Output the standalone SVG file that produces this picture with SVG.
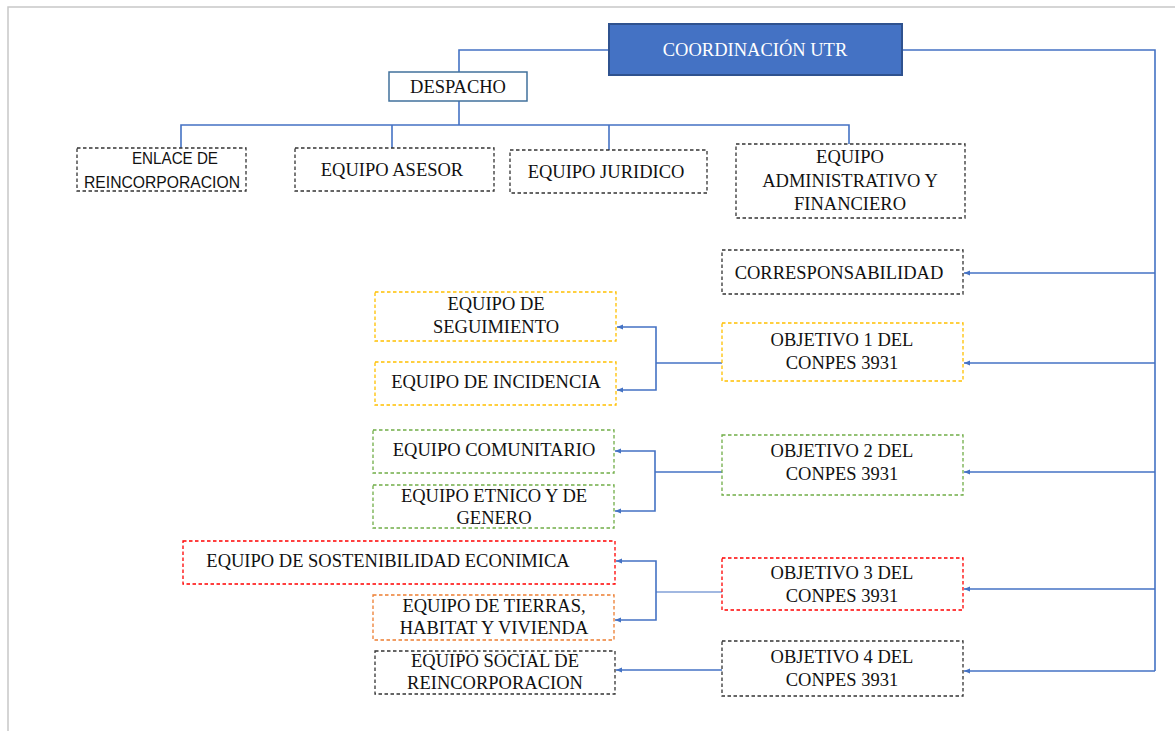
<svg xmlns="http://www.w3.org/2000/svg" width="1175" height="731" viewBox="0 0 1175 731">
<defs>
<marker id="ah" markerWidth="8" markerHeight="8" refX="7" refY="4" orient="auto" markerUnits="userSpaceOnUse">
<path d="M1,1.5 L7,4 L1,6.5 Z" fill="#4472C4"/>
</marker>
</defs>
<style>
.t{font-family:"Liberation Serif","Times New Roman",serif;font-size:18.5px;fill:#111111;text-anchor:middle}
.w{fill:#ffffff}
.s{font-family:"Liberation Sans",Arial,sans-serif;font-size:17px;fill:#111111;text-anchor:middle}
.bx{fill:#ffffff;stroke-width:1.3;stroke-dasharray:3.5 2.5}
.k{stroke:#333333}
.y{stroke:#FFC000}
.g{stroke:#70AD47}
.r{stroke:#FF0000}
.o{stroke:#ED7D31}
.c{fill:none;stroke:#4472C4;stroke-width:1.6}
.a{marker-end:url(#ah)}
</style>
<rect width="1175" height="731" fill="#ffffff"/>
<path d="M8,731 V7 H1175" fill="none" stroke="#C8C8C8" stroke-width="1.5"/>
<g id="connectors">
<path class="c" d="M609,50 H459 V72"/>
<path class="c" d="M902,50 H1155 V671"/>
<path class="c" d="M459,101 V125"/>
<path class="c" d="M181,148 V125 H849 V145"/>
<path class="c" d="M392,125 V148"/>
<path class="c" d="M609,125 V150"/>
<path class="c a" d="M1155,273 H964"/>
<path class="c a" d="M1155,363 H964"/>
<path class="c a" d="M1155,472 H964"/>
<path class="c a" d="M1155,589 H964"/>
<path class="c a" d="M1155,671 H964"/>
<path class="c" d="M722,363 H656"/>
<path class="c a" d="M656,363 V327 H617"/>
<path class="c a" d="M656,363 V390 H617"/>
<path class="c" d="M722,472 H655"/>
<path class="c a" d="M655,472 V451 H615"/>
<path class="c a" d="M655,472 V511 H615"/>
<path class="c" style="stroke-width:1.1" d="M722,592 H656"/>
<path class="c a" d="M656,592 V561 H616"/>
<path class="c a" d="M656,592 V620 H615"/>
<path class="c a" d="M722,670 H616"/>
</g>
<g id="coordinacion">
<rect x="609" y="24" width="293" height="51" fill="#4472C4" stroke="#2F528F" stroke-width="2"/>
<text class="t w" x="755" y="56">COORDINACIÓN UTR</text>
</g>
<g id="despacho">
<rect x="389" y="72" width="138" height="29" fill="#ffffff" stroke="#41719C" stroke-width="1.5"/>
<text class="t" x="458" y="93">DESPACHO</text>
</g>
<g id="enlace">
<rect class="bx k" x="77" y="148" width="169" height="43"/>
<text class="s" x="175" y="164" textLength="86" lengthAdjust="spacingAndGlyphs">ENLACE DE</text>
<text class="s" x="162" y="188" textLength="156" lengthAdjust="spacingAndGlyphs">REINCORPORACION</text>
</g>
<g id="asesor">
<rect class="bx k" x="295" y="148" width="199" height="43"/>
<text class="t" x="392" y="176">EQUIPO ASESOR</text>
</g>
<g id="juridico">
<rect class="bx k" x="510" y="150" width="197" height="43"/>
<text class="t" x="606" y="178">EQUIPO JURIDICO</text>
</g>
<g id="administrativo">
<rect class="bx k" x="736" y="144" width="229" height="74"/>
<text class="t" x="850" y="163">EQUIPO</text>
<text class="t" x="850" y="187">ADMINISTRATIVO Y</text>
<text class="t" x="850" y="210">FINANCIERO</text>
</g>
<g id="corresponsabilidad">
<rect class="bx k" x="722" y="250" width="241" height="44"/>
<text class="t" x="839" y="279">CORRESPONSABILIDAD</text>
</g>
<g id="objetivo1">
<rect class="bx y" x="722" y="323" width="241" height="58"/>
<text class="t" x="842" y="346">OBJETIVO 1 DEL</text>
<text class="t" x="842" y="369">CONPES 3931</text>
</g>
<g id="seguimiento">
<rect class="bx y" x="375" y="292" width="241" height="49"/>
<text class="t" x="496" y="310">EQUIPO DE</text>
<text class="t" x="496" y="333">SEGUIMIENTO</text>
</g>
<g id="incidencia">
<rect class="bx y" x="375" y="362" width="241" height="43"/>
<text class="t" x="496" y="388">EQUIPO DE INCIDENCIA</text>
</g>
<g id="objetivo2">
<rect class="bx g" x="722" y="435" width="241" height="60"/>
<text class="t" x="842" y="457">OBJETIVO 2 DEL</text>
<text class="t" x="842" y="480">CONPES 3931</text>
</g>
<g id="comunitario">
<rect class="bx g" x="373" y="430" width="241" height="43"/>
<text class="t" x="494" y="456">EQUIPO COMUNITARIO</text>
</g>
<g id="etnico">
<rect class="bx g" x="373" y="485" width="241" height="43"/>
<text class="t" x="494" y="502">EQUIPO ETNICO Y DE</text>
<text class="t" x="494" y="524">GENERO</text>
</g>
<g id="objetivo3">
<rect class="bx r" x="722" y="558" width="241" height="52"/>
<text class="t" x="842" y="579">OBJETIVO 3 DEL</text>
<text class="t" x="842" y="602">CONPES 3931</text>
</g>
<g id="sostenibilidad">
<rect class="bx r" x="183" y="541" width="432" height="43"/>
<text class="t" x="388" y="567">EQUIPO DE SOSTENIBILIDAD ECONIMICA</text>
</g>
<g id="tierras">
<rect class="bx o" x="373" y="595" width="241" height="45"/>
<text class="t" x="494" y="612">EQUIPO DE TIERRAS,</text>
<text class="t" x="494" y="634">HABITAT Y VIVIENDA</text>
</g>
<g id="objetivo4">
<rect class="bx k" x="722" y="641" width="241" height="55"/>
<text class="t" x="842" y="663">OBJETIVO 4 DEL</text>
<text class="t" x="842" y="686">CONPES 3931</text>
</g>
<g id="social">
<rect class="bx k" x="375" y="651" width="240" height="43"/>
<text class="t" x="495" y="667">EQUIPO SOCIAL DE</text>
<text class="t" x="495" y="689">REINCORPORACION</text>
</g>
</svg>
